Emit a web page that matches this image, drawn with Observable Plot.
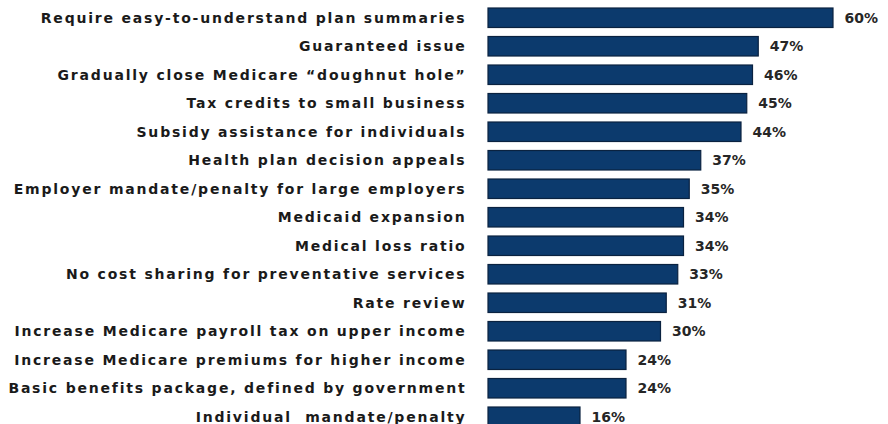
<!DOCTYPE html>
<html><head><meta charset="utf-8">
<script src="https://cdn.jsdelivr.net/npm/d3@7"></script>
<script src="https://cdn.jsdelivr.net/npm/@observablehq/plot@0.6"></script>
<style>
body{margin:0;background:#fff;}
svg{display:block;}
svg g[aria-label="y-axis tick label"] text{letter-spacing:1.8px;}
</style>
</head><body>
<div id="chart"></div>
<script>
const categories = [
  "Require easy-to-understand plan summaries",
  "Guaranteed issue",
  "Gradually close Medicare \u201cdoughnut hole\u201d",
  "Tax credits to small business",
  "Subsidy assistance for individuals",
  "Health plan decision appeals",
  "Employer mandate/penalty for large employers",
  "Medicaid expansion",
  "Medical loss ratio",
  "No cost sharing for preventative services",
  "Rate review",
  "Increase Medicare payroll tax on upper income",
  "Increase Medicare premiums for higher income",
  "Basic benefits package, defined by government",
  "Individual  mandate/penalty"
];
const values = [60, 47, 46, 45, 44, 37, 35, 34, 34, 33, 31, 30, 24, 24, 16];
const data = categories.map((c, i) => ({category: c, value: values[i]}));

const chart = Plot.plot({
  width: 888,
  height: 424,
  marginLeft: 488,
  marginRight: 55,
  marginTop: 0,
  marginBottom: 0,
  style: {fontFamily: "'DejaVu Sans', sans-serif", fontWeight: "bold", fontSize: "14px", color: "#1a1a1a"},
  x: {domain: [0, 60], axis: null},
  y: {domain: categories, range: [3.5, 431], round: false, paddingInner: 0.316, paddingOuter: 0.158, label: null, tickSize: 0, tickPadding: 22},
  marks: [
    Plot.barX(data, {x: "value", y: "category", fill: "#0c3a6d", stroke: "#0a2240", strokeWidth: 1.2}),
    Plot.text(data, {x: "value", y: "category", text: d => d.value + "%", dx: 11, textAnchor: "start", fontSize: 14, fontWeight: "bold", fill: "#262626", fontFamily: "'DejaVu Sans', sans-serif"})
  ]
});
document.getElementById("chart").appendChild(chart);
</script>
</body></html>
